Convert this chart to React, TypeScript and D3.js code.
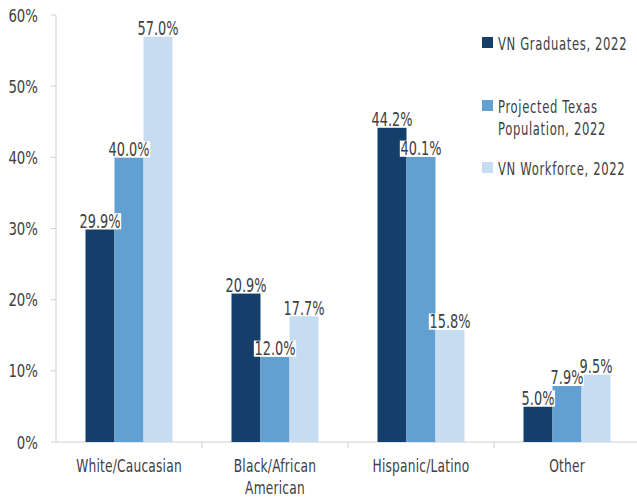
import { useEffect, useRef } from 'react'
import * as d3 from 'd3'

const CATEGORIES = ['White/Caucasian', 'Black/African American', 'Hispanic/Latino', 'Other']
const CATEGORY_LINES = [['White/Caucasian'], ['Black/African', 'American'], ['Hispanic/Latino'], ['Other']]
const SERIES = ['VN Graduates, 2022', 'Projected Texas Population, 2022', 'VN Workforce, 2022']
const LEGEND_LINES = [['VN Graduates, 2022'], ['Projected Texas', 'Population, 2022'], ['VN Workforce, 2022']]
const GRADUATES = [29.9, 20.9, 44.2, 5.0]
const TX_POPULATION = [40.0, 12.0, 40.1, 7.9]
const WORKFORCE = [57.0, 17.7, 15.8, 9.5]
const Y_TICKS = [0, 10, 20, 30, 40, 50, 60]
const COLORS = ['#133f6a', '#62a0d2', '#c6dcf0']

const FONT = '"DejaVu Sans", sans-serif'
const TEXT = '#404040'

type G = d3.Selection<SVGGElement, unknown, null, undefined> | d3.Selection<SVGSVGElement, unknown, null, undefined>

// DejaVu squeezed horizontally to look like the condensed face in the original
function narrowText(parent: G, x: number, y: number, str: string, opts: {
  size?: number, sx?: number, anchor?: string, spacing?: number
} = {}) {
  const { size = 18, sx = 0.76, anchor = 'start', spacing = 0 } = opts
  const g = (parent as any).append('g').attr('transform', `translate(${x},${y}) scale(${sx},1)`)
  const t = g.append('text')
    .attr('font-size', size).attr('font-family', FONT).attr('fill', TEXT)
    .attr('text-anchor', anchor).attr('letter-spacing', spacing)
    .text(str)
  return { g, t }
}

export default function App() {
  const svgRef = useRef<SVGSVGElement>(null)

  useEffect(() => {
    const svg = d3.select(svgRef.current!)
    svg.selectAll('*').remove()
    const values = [GRADUATES, TX_POPULATION, WORKFORCE]

    const x = d3.scaleBand<string>().domain(CATEGORIES).range([56, 640]).paddingInner(0).paddingOuter(0)
    const xs = d3.scaleBand<number>().domain([0, 1, 2]).range([0, 87])
    const y = d3.scaleLinear([0, 60], [442, 15])
    const off = (x.bandwidth() - 87) / 2

    // ── Y axis ───────────────────────────────────────────────
    svg.append('path').attr('d', `M56,${y(60)}V${y(0)}`).attr('stroke', '#d0d0d0').attr('fill', 'none')
    Y_TICKS.forEach(t => {
      svg.append('line').attr('x1', 51).attr('x2', 56).attr('y1', y(t)).attr('y2', y(t)).attr('stroke', '#d0d0d0')
      narrowText(svg, 38, y(t) + 6.5, `${t}%`, { anchor: 'end', sx: 0.74 })
    })

    // ── X axis ───────────────────────────────────────────────
    svg.append('line')
      .attr('x1', 56).attr('x2', 640).attr('y1', 442).attr('y2', 442)
      .attr('stroke', '#d0d0d0')
    CATEGORIES.forEach((c, i) => {
      const bx = x(c)!
      if (i > 0) {
        svg.append('line').attr('x1', bx).attr('x2', bx).attr('y1', 442).attr('y2', 448).attr('stroke', '#d0d0d0')
      }
      CATEGORY_LINES[i].forEach((ln, li) => {
        narrowText(svg, bx + x.bandwidth() / 2, 472 + li * 22, ln, { anchor: 'middle', sx: 0.68, spacing: 0.3 })
      })
    })

    // ── Bars ─────────────────────────────────────────────────
    values.forEach((vals, s) => {
      vals.forEach((v, i) => {
        svg.append('rect')
          .attr('x', x(CATEGORIES[i])! + off + xs(s)!)
          .attr('y', y(v)).attr('width', xs.bandwidth()).attr('height', y(0) - y(v))
          .attr('fill', COLORS[s])
      })
    })

    // ── Value labels ─────────────────────────────────────────
    values.forEach((vals, s) => {
      vals.forEach((v, i) => {
        const cx = x(CATEGORIES[i])! + off + xs(s)! + xs.bandwidth() / 2
        const { g, t } = narrowText(svg, cx, y(v) - 1.5, `${v.toFixed(1)}%`, { anchor: 'middle', size: 19, sx: 0.68 })
        const bb = (t.node() as SVGTextElement).getBBox()
        g.insert('rect', 'text')
          .attr('x', bb.x - 1).attr('y', bb.y + 3).attr('width', bb.width + 2).attr('height', bb.height - 6)
          .attr('fill', '#fff')
      })
    })

    // ── Legend ───────────────────────────────────────────────
    const legendY = [43, 106, 168]
    SERIES.forEach((_, s) => {
      svg.append('rect')
        .attr('x', 482).attr('y', legendY[s] - 6).attr('width', 11).attr('height', 11)
        .attr('fill', COLORS[s])
      LEGEND_LINES[s].forEach((ln, li) => {
        narrowText(svg, 498, legendY[s] + 6.5 + li * 22, ln, { size: 18, sx: 0.645, spacing: 1 })
      })
    })
  }, [])

  return (
    <svg ref={svgRef} width={637} height={499}
      style={{ position: 'absolute', left: 0, top: 0, background: '#fff' }} />
  )
}
